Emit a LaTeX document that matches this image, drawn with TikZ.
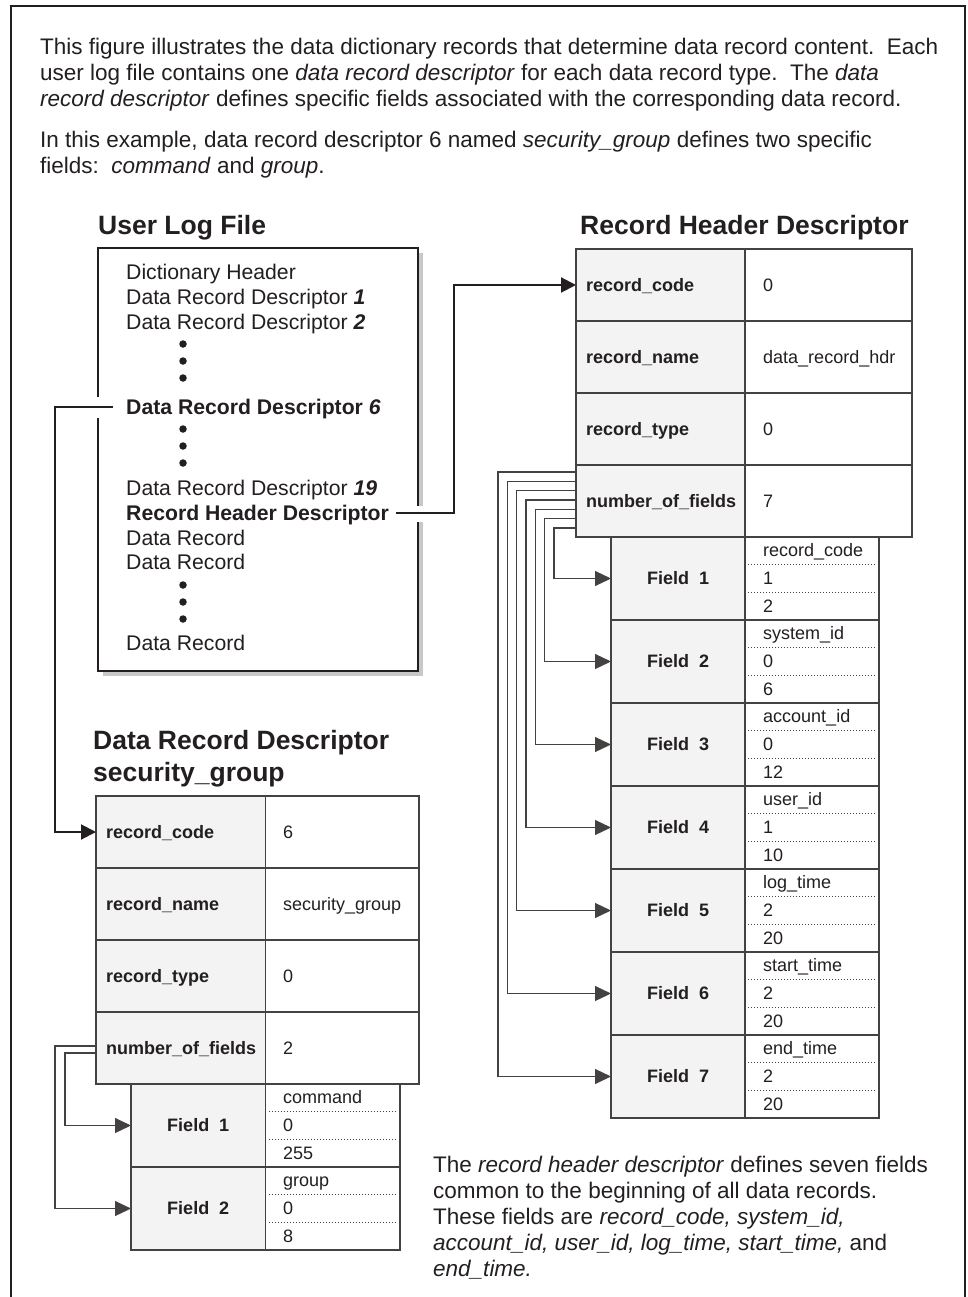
\documentclass[tikz,border=0pt]{standalone}
\usepackage{fontspec}
\setmainfont{Liberation Sans}
\usetikzlibrary{arrows.meta,calc}
\definecolor{ink}{RGB}{35,31,32}
\definecolor{cellgray}{RGB}{243,243,243}
\definecolor{shadowgray}{RGB}{200,200,200}
\begin{document}
\begin{tikzpicture}[x=1pt,y=-1pt,
  intro/.style={inner sep=0pt,anchor=base west,text=ink,font=\fontsize{22.5}{26}\selectfont\frenchspacing},
  boxt/.style={inner sep=0pt,anchor=base west,text=ink,font=\fontsize{21.2}{25}\selectfont},
  ttl/.style={inner sep=0pt,anchor=base west,text=ink,font=\fontsize{26.5}{30}\selectfont\bfseries},
  klab/.style={inner sep=0pt,anchor=base west,text=ink,font=\fontsize{18}{21}\selectfont\bfseries},
  vlab/.style={inner sep=0pt,anchor=base west,text=ink,font=\fontsize{18}{21}\selectfont},
  flab/.style={inner sep=0pt,text=ink,font=\fontsize{18}{21}\selectfont\bfseries},
  kcell/.style={draw=ink!85,line width=1.2pt,fill=cellgray,inner sep=0pt,outer sep=0pt,anchor=north west},
  vcell/.style={draw=ink!85,line width=1.2pt,fill=white,inner sep=0pt,outer sep=0pt,anchor=north west},
  bullet/.style={circle,fill=ink,inner sep=0pt,minimum size=7.5pt},
  mconn/.style={draw=ink,line width=2pt,-{Triangle[length=15pt,width=15pt]}},
  fconn/.style={draw=ink!85,line width=1.2pt,-{Triangle[length=16pt,width=15pt]}},
  dotsep/.style={draw=ink!85,line width=1.1pt,dash pattern=on 1pt off 2pt}
]
\useasboundingbox (0,0) rectangle (967,1297);
\fill[white] (0,0) rectangle (967,1297);
% outer frame
\draw[ink,line width=2pt] (11,1297) -- (11,6) -- (965,6) -- (965,1297);

% intro text
\node[intro] (i1) at (40,55) {This figure illustrates the data dictionary records that determine data record content.\ \ Each};
\node[intro] (i2) at (40,81) {user log file contains one \textit{data record descriptor} for each data record type.\ \ The \textit{data}};
\node[intro] (i3) at (40,107) {\textit{record descriptor} defines specific fields associated with the corresponding data record.};
\node[intro] (i4) at (40,148) {In this example, data record descriptor 6 named \textit{security\_group} defines two specific};
\node[intro] (i5) at (40,174) {fields:\ \ \textit{command} and \textit{group}.};

% user log file
\node[ttl] (ulft) at (98,234) {User Log File};
\fill[shadowgray] (103,253) rectangle (423,676);
\node[draw=ink,line width=1.5pt,fill=white,inner sep=0pt,outer sep=0pt,anchor=north west,minimum width=320pt,minimum height=423pt] (ulf) at (98,248) {};
\fill[white] (92,397) rectangle (104,418);
\fill[white] (412,506) rectangle (428,522);
\node[boxt] (dh) at (126,279.5) {Dictionary Header};
\node[boxt] (dr1) at (126,304.5) {Data Record Descriptor \textbf{\textit{1}}};
\node[boxt] (dr2) at (126,329.5) {Data Record Descriptor \textbf{\textit{2}}};
\node[bullet] (u1) at (183,344) {};
\node[bullet] (u2) at (183,361) {};
\node[bullet] (u3) at (183,378) {};
\node[boxt] (dr6) at (126,414.5) {\textbf{Data Record Descriptor \textit{6}}};
\node[bullet] (u4) at (183,429) {};
\node[bullet] (u5) at (183,446) {};
\node[bullet] (u6) at (183,463) {};
\node[boxt] (dr19) at (126,495.5) {Data Record Descriptor \textbf{\textit{19}}};
\node[boxt] (rhd) at (126,520.5) {\textbf{Record Header Descriptor}};
\node[boxt] (dra) at (126,545.5) {Data Record};
\node[boxt] (drb) at (126,569.5) {Data Record};
\node[bullet] (u7) at (183,585) {};
\node[bullet] (u8) at (183,602) {};
\node[bullet] (u9) at (183,619) {};
\node[boxt] (drc) at (126,650.5) {Data Record};

% record header descriptor table
\node[ttl] (rhdt) at (580,235) {Record Header Descriptor};
\foreach \i/\k/\v in {1/record\_code/0,2/record\_name/data\_record\_hdr,3/record\_type/0,4/number\_of\_fields/7}{
  \node[kcell,minimum width=169pt,minimum height=72pt] (rk\i) at (576,{249+72*(\i-1)}) {};
  \node[vcell,minimum width=167pt,minimum height=72pt] (rv\i) at (745,{249+72*(\i-1)}) {};
  \node[klab] (rkt\i) at ([shift={(10pt,-6.5pt)}]rk\i.west) {\k};
  \node[vlab] (rvt\i) at ([shift={(18pt,-6.5pt)}]rv\i.west) {\v};
}
\foreach \i/\a/\b/\c in {1/record\_code/1/2,2/system\_id/0/6,3/account\_id/0/12,4/user\_id/1/10,5/log\_time/2/20,6/start\_time/2/20,7/end\_time/2/20}{
  \node[kcell,minimum width=134pt,minimum height=83pt] (fk\i) at (611,{537+83*(\i-1)}) {};
  \node[vcell,minimum width=134pt,minimum height=83pt] (fv\i) at (745,{537+83*(\i-1)}) {};
  \node[flab] (fkt\i) at (fk\i.center) {Field\ \ \i};
  \node[vlab] (fa\i) at ([shift={(18pt,-19pt)}]fv\i.north west) {\a};
  \node[vlab] (fb\i) at ([shift={(18pt,-47pt)}]fv\i.north west) {\b};
  \node[vlab] (fc\i) at ([shift={(18pt,-75pt)}]fv\i.north west) {\c};
  \draw[dotsep] ([shift={(3pt,-27.7pt)}]fv\i.north west) -- ([shift={(-3pt,-27.7pt)}]fv\i.north east);
  \draw[dotsep] ([shift={(3pt,-55.3pt)}]fv\i.north west) -- ([shift={(-3pt,-55.3pt)}]fv\i.north east);
}
\foreach \i in {1,...,7}{
  \coordinate (b\i) at ({554-9.33*(\i-1)},{528-9.33*(\i-1)});
  \draw[fconn] (rk4.west |- b\i) -- (b\i) |- (fk\i.west);
}

% data record descriptor table
\node[ttl] (drdt1) at (93,749) {Data Record Descriptor};
\node[ttl] (drdt2) at (93,781) {security\_group};
\foreach \i/\k/\v in {1/record\_code/6,2/record\_name/security\_group,3/record\_type/0,4/number\_of\_fields/2}{
  \node[kcell,minimum width=169.5pt,minimum height=72pt] (dk\i) at (96,{796+72*(\i-1)}) {};
  \node[vcell,minimum width=153.5pt,minimum height=72pt] (dv\i) at (265.5,{796+72*(\i-1)}) {};
  \node[klab] (dkt\i) at ([shift={(10pt,-6.5pt)}]dk\i.west) {\k};
  \node[vlab] (dvt\i) at ([shift={(17.5pt,-6.5pt)}]dv\i.west) {\v};
}
\foreach \i/\a/\b/\c in {1/command/0/255,2/group/0/8}{
  \node[kcell,minimum width=134.5pt,minimum height=83pt] (gk\i) at (131,{1084+83*(\i-1)}) {};
  \node[vcell,minimum width=134.5pt,minimum height=83pt] (gv\i) at (265.5,{1084+83*(\i-1)}) {};
  \node[flab] (gkt\i) at (gk\i.center) {Field\ \ \i};
  \node[vlab] (ga\i) at ([shift={(17.5pt,-19pt)}]gv\i.north west) {\a};
  \node[vlab] (gb\i) at ([shift={(17.5pt,-47pt)}]gv\i.north west) {\b};
  \node[vlab] (gc\i) at ([shift={(17.5pt,-75pt)}]gv\i.north west) {\c};
  \draw[dotsep] ([shift={(3pt,-27.7pt)}]gv\i.north west) -- ([shift={(-3pt,-27.7pt)}]gv\i.north east);
  \draw[dotsep] ([shift={(3pt,-55.3pt)}]gv\i.north west) -- ([shift={(-3pt,-55.3pt)}]gv\i.north east);
}
\coordinate (g2) at (55,1046);
\coordinate (g1) at (65,1053);
\draw[fconn] (dk4.west |- g2) -- (g2) |- (gk2.west);
\draw[fconn] (dk4.west |- g1) -- (g1) |- (gk1.west);

% main connectors
\coordinate (c6) at (113,407);
\coordinate (l6) at (55,407);
\draw[mconn] (c6) -- (l6) |- (dk1.west);
\coordinate (c19) at (396,513);
\coordinate (r19) at (454,513);
\draw[mconn] (c19) -- (r19) |- (rk1.west);

% bottom paragraph
\node[intro] (p1) at (433,1172) {The \textit{record header descriptor} defines seven fields};
\node[intro] (p2) at (433,1198) {common to the beginning of all data records.};
\node[intro] (p3) at (433,1224) {These fields are \textit{record\_code, system\_id,}};
\node[intro] (p4) at (433,1250) {\textit{account\_id, user\_id, log\_time, start\_time,} and};
\node[intro] (p5) at (433,1276) {\textit{end\_time.}};
\end{tikzpicture}
\end{document}
